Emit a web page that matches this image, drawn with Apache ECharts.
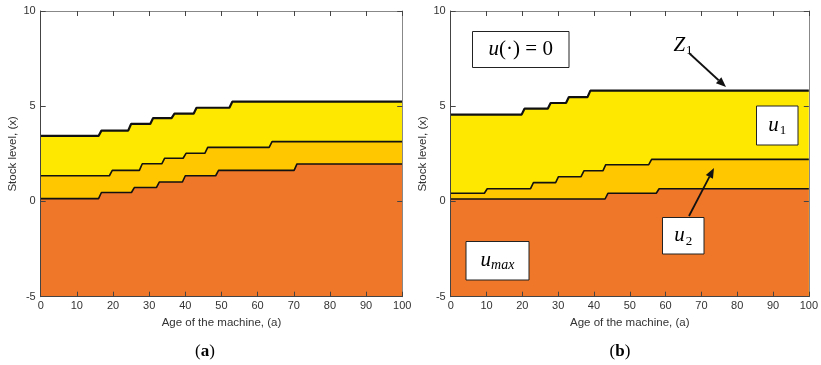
<!DOCTYPE html>
<html>
<head>
<meta charset="utf-8">
<script src="https://cdn.jsdelivr.net/npm/echarts@6/dist/echarts.min.js"></script>
<style>
  html, body { margin: 0; padding: 0; background: #fff; }
  #chart { width: 821px; height: 365px; }
</style>
</head>
<body>
<div id="chart"></div>
<script>
// Switching boundaries: [age of the machine, stock level] vertices
const boundaryTopA = [[0,3.44],[16,3.44],[16.8,3.72],[24.2,3.72],[25,4.07],[30.3,4.07],[31.1,4.38],[36.2,4.38],[37,4.61],[42.3,4.61],[43.1,4.92],[52.2,4.92],[53,5.24],[100,5.24]];
const boundaryMidA = [[0,1.35],[19,1.35],[19.8,1.63],[27.3,1.63],[28.1,1.98],[33.5,1.98],[34.3,2.27],[39.4,2.27],[40.2,2.53],[45.4,2.53],[46.2,2.84],[63.2,2.84],[64,3.14],[100,3.14]];
const boundaryLowA = [[0,0.15],[16,0.15],[16.8,0.47],[25.1,0.47],[25.9,0.73],[32,0.73],[32.8,1.02],[39.2,1.02],[40,1.35],[48.4,1.35],[49.2,1.63],[70.1,1.63],[70.9,1.97],[100,1.97]];

const boundaryTopB = [[0,4.56],[19.8,4.56],[20.6,4.87],[27.1,4.87],[27.9,5.17],[32.2,5.17],[33,5.48],[38.2,5.48],[39,5.82],[100,5.82]];
const boundaryMidB = [[0,0.43],[9.4,0.43],[10.2,0.67],[22.3,0.67],[23.1,0.99],[29.3,0.99],[30.1,1.30],[36.4,1.30],[37.2,1.61],[42.5,1.61],[43.3,1.93],[55.3,1.93],[56.1,2.21],[100,2.21]];
const boundaryLowB = [[0,0.13],[43.1,0.13],[43.9,0.43],[57.4,0.43],[58.2,0.67],[100,0.67]];

const ageTicks = [0, 10, 20, 30, 40, 50, 60, 70, 80, 90, 100];
const stockTicks = [-5, 0, 5, 10];

const xTitle = 'Age of the machine, (a)';
const yTitle = 'Stock level, (x)';
const captions = ['a', 'b'];

const colZero = '#FFE800';
const colMid = '#FFC700';
const colMax = '#EE7729';

const chart = echarts.init(document.getElementById('chart'), null, { renderer: 'canvas' });

const grids = [
  { left: 40.7, top: 11, width: 361.5, height: 285.7 },
  { left: 450.7, top: 11, width: 362, height: 285.7 }
];

const tickFont = { fontFamily: 'Liberation Sans, Arial, sans-serif', fontSize: 11, color: '#333' };
const tickStyle = { show: true, inside: true, length: 5, lineStyle: { color: '#444', width: 1 } };

const xAxes = [], yAxes = [];
grids.forEach((g, i) => {
  xAxes.push({
    gridIndex: i, type: 'value', min: ageTicks[0], max: ageTicks[ageTicks.length - 1], interval: 10,
    position: 'bottom', z: 10,
    name: xTitle, nameLocation: 'middle', nameGap: 18,
    nameTextStyle: Object.assign({}, tickFont, { fontSize: 11.5 }),
    axisLine: { show: true, onZero: false, lineStyle: { color: '#444', width: 1 } },
    axisTick: tickStyle,
    axisLabel: Object.assign({ margin: 4 }, tickFont),
    splitLine: { show: false }
  });
  xAxes.push({
    gridIndex: i, type: 'value', min: 0, max: 100, interval: 10, position: 'top', z: 10,
    axisLine: { show: true, onZero: false, lineStyle: { color: '#888', width: 1 } },
    axisTick: tickStyle,
    axisLabel: { show: false }, splitLine: { show: false }
  });
  yAxes.push({
    gridIndex: i, type: 'value', min: stockTicks[0], max: stockTicks[stockTicks.length - 1], interval: 5,
    position: 'left', z: 10,
    name: yTitle, nameLocation: 'middle', nameGap: 22,
    nameTextStyle: Object.assign({}, tickFont, { fontSize: 11.5 }),
    axisLine: { show: true, onZero: false, lineStyle: { color: '#444', width: 1 } },
    axisTick: tickStyle,
    axisLabel: Object.assign({ margin: 5 }, tickFont),
    splitLine: { show: false }
  });
  yAxes.push({
    gridIndex: i, type: 'value', min: -5, max: 10, interval: 5, position: 'right', z: 10,
    axisLine: { show: true, onZero: false, lineStyle: { color: '#888', width: 1 } },
    axisTick: tickStyle,
    axisLabel: { show: false }, splitLine: { show: false }
  });
});

function region(data, panel, fill, width) {
  return {
    type: 'line', data: data,
    xAxisIndex: panel * 2, yAxisIndex: panel * 2,
    symbol: 'none', smooth: false, animation: false,
    lineStyle: { color: '#111', width: width },
    areaStyle: { color: fill, opacity: 1, origin: 'start' },
    silent: true
  };
}

const series = [
  region(boundaryTopA, 0, colZero, 2.2),
  region(boundaryMidA, 0, colMid, 1.6),
  region(boundaryLowA, 0, colMax, 1.6),
  region(boundaryTopB, 1, colZero, 2.2),
  region(boundaryMidB, 1, colMid, 1.6),
  region(boundaryLowB, 1, colMax, 1.6)
];

chart.setOption({
  animation: false,
  backgroundColor: '#fff',
  grid: grids,
  xAxis: xAxes,
  yAxis: yAxes,
  series: series
});

// Annotations for the right-hand panel
const mathFont = 'Liberation Serif, DejaVu Serif, serif';
const TOP = 200;
const rich = {
  i: { fontFamily: mathFont, fontStyle: 'italic', fontSize: 21, color: '#222' },
  r: { fontFamily: mathFont, fontSize: 21, color: '#222' },
  s: { fontFamily: mathFont, fontStyle: 'italic', fontSize: 14, color: '#222', padding: [10, 0, 0, 0] },
  n: { fontFamily: mathFont, fontSize: 13, color: '#222', padding: [11, 0, 0, 1] }
};

function labelBox(x, y, w, h, text) {
  return [
    { type: 'rect', z: TOP, shape: { x: x, y: y, width: w, height: h },
      style: { fill: '#fff', stroke: '#222', lineWidth: 1 } },
    { type: 'text', z: TOP + 1, x: x + w / 2, y: y + h / 2,
      style: { text: text, rich: rich, align: 'center', verticalAlign: 'middle' } }
  ];
}
function arrow(x1, y1, x2, y2) {
  const ang = Math.atan2(y2 - y1, x2 - x1);
  const L = 10, W = 4;
  const bx = x2 - L * Math.cos(ang), by = y2 - L * Math.sin(ang);
  const px = -Math.sin(ang) * W, py = Math.cos(ang) * W;
  return [
    { type: 'line', z: TOP, shape: { x1: x1, y1: y1, x2: bx, y2: by }, style: { stroke: '#111', lineWidth: 1.8 } },
    { type: 'polygon', z: TOP, shape: { points: [[x2, y2], [bx + px, by + py], [bx - px, by - py]] },
      style: { fill: '#111' } }
  ];
}

function caption(x, letter) {
  return {
    type: 'text', z: TOP, x: x, y: 352,
    style: { text: '{p|(}{b|' + letter + '}{p|)}', align: 'center', verticalAlign: 'middle',
      rich: {
        p: { fontFamily: mathFont, fontSize: 17, color: '#222' },
        b: { fontFamily: mathFont, fontWeight: 'bold', fontSize: 17, color: '#222' }
      } }
  };
}

chart.setOption({
  graphic: [].concat(
    labelBox(472.5, 31.5, 96.5, 36, '{i|u}{r|(·) = 0}'),
    labelBox(756.5, 106, 41.5, 39, '{i|u}{n|1}'),
    labelBox(662.5, 217.5, 41.5, 36.5, '{i|u}{n|2}'),
    labelBox(466, 241.5, 63, 38.5, '{i|u}{s|max}'),
    [{ type: 'text', z: TOP, x: 683, y: 45,
      style: { text: '{i|Z}{n|1}', rich: rich, align: 'center', verticalAlign: 'middle' } }],
    arrow(689, 53, 726, 87),
    arrow(689, 216, 714, 168),
    [caption(205, captions[0]), caption(620, captions[1])]
  )
});
</script>
</body>
</html>
